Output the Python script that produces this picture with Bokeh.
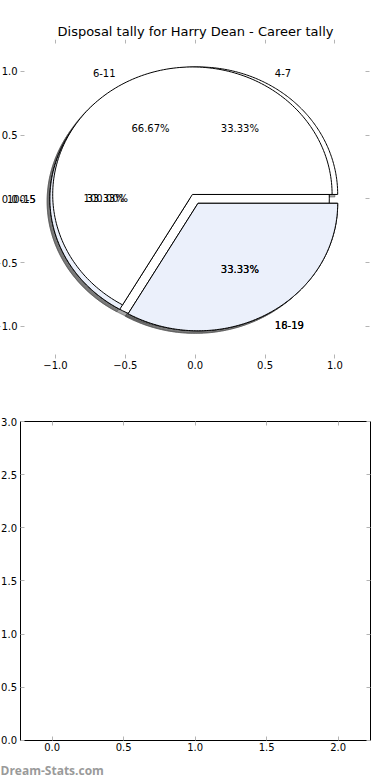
import numpy as np
from bokeh.plotting import figure
from bokeh.models import ColumnDataSource, Range1d, LinearAxis, FixedTicker, Label, LabelSet
from bokeh.layouts import column
from bokeh.embed import file_html
from bokeh.resources import INLINE
from bokeh.core.properties import value

# ---------------- data ----------------
title_text = "Disposal tally for Harry Dean - Career tally"
watermark = "Dream-Stats.com"

# three pies drawn on top of each other (first = bottom)
pie1_labels = ["0-5"]
pie1_values = [1]
pie2_labels = ["4-7", "10-15", "16-19"]
pie2_values = [1, 1, 1]
pie3_labels = ["6-11", "18-19"]
pie3_values = [2, 1]

pie_ticks = [-1.0, -0.5, 0.0, 0.5, 1.0]
empty_x_ticks = [0.0, 0.5, 1.0, 1.5, 2.0]
empty_y_ticks = [0.0, 0.5, 1.0, 1.5, 2.0, 2.5, 3.0]

# axes limits (matplotlib style axes drawn inside a full-size Bokeh frame)
pie_lim = 1.25
empty_xlim = (-0.225, 2.225)
empty_ylim = (0.0, 3.0)

# ---------------- style ----------------
FONT = "DejaVu Sans"
wedge_colors = ["#ffffff", "#ebf0fb"]
explode = 0.04
shadow_dx, shadow_dy = -0.02, -0.02
label_dist, pct_dist = 1.1, 0.6
tick_color = "#b4b4b4"


def tick_text(t):
    return ("%.1f" % t).replace("-", "\u2212")


def build_pie(values, labels):
    total = float(sum(values))
    wedges, texts = [], []
    t1 = 0.0
    for i, (v, lab) in enumerate(zip(values, labels)):
        frac = v / total
        t2 = t1 + frac
        tm = np.pi * (t1 + t2)
        cx, cy = explode * np.cos(tm), explode * np.sin(tm)
        ang = np.linspace(2 * np.pi * t1, 2 * np.pi * t2, 180)
        if frac > 0.9999:
            xs, ys = cx + np.cos(ang), cy + np.sin(ang)
        else:
            xs = np.concatenate([[cx], cx + np.cos(ang), [cx]])
            ys = np.concatenate([[cy], cy + np.sin(ang), [cy]])
        wedges.append(dict(xs=list(xs), ys=list(ys),
                           color=wedge_colors[i % len(wedge_colors)]))
        lx, ly = cx + label_dist * np.cos(tm), cy + label_dist * np.sin(tm)
        px, py = cx + pct_dist * np.cos(tm), cy + pct_dist * np.sin(tm)
        texts.append(dict(label=lab, lx=lx, ly=ly,
                          align="left" if lx > 0 else "right",
                          pct="%.2f%%" % (100 * frac), px=px, py=py))
        t1 = t2
    return wedges, texts


pies = [build_pie(pie1_values, pie1_labels),
        build_pie(pie2_values, pie2_labels),
        build_pie(pie3_values, pie3_labels)]


def style_axis(ax, ticks, show_labels, line_color=None, bounds=None, loc=None):
    ax.ticker = FixedTicker(ticks=ticks)
    ax.fixed_location = loc
    if bounds is not None:
        ax.bounds = bounds
    ax.axis_line_color = line_color
    ax.axis_line_width = 1
    ax.major_tick_in = 4
    ax.major_tick_out = 0
    ax.major_tick_line_color = tick_color
    ax.minor_tick_line_color = None
    ax.axis_label_standoff = 0
    ax.major_label_text_font = FONT
    ax.major_label_text_font_size = "10px"
    ax.major_label_text_color = "black"
    ax.major_label_standoff = 3
    if show_labels:
        ax.major_label_overrides = {t: tick_text(t) for t in ticks}
    else:
        ax.major_label_overrides = {t: "" for t in ticks}


# ---------------- pie figure ----------------
# Bokeh frame covers the whole figure below the title; pixel scale 139.7 px/unit (x), 127.5 px/unit (y)
p1 = figure(width=390, height=395,
            x_range=Range1d(-194.7 / 139.7, 195.3 / 139.7),
            y_range=Range1d(pie_lim - 356.0 / 127.5, pie_lim),
            x_axis_type=None, y_axis_type=None, output_backend="svg", toolbar_location=None,
            min_border_left=0, min_border_right=0, min_border_top=39, min_border_bottom=0,
            title=title_text)
p1.outline_line_color = None
p1.grid.visible = False
p1.title.text_font = FONT
p1.title.text_font_size = "13px"
p1.title.text_font_style = "normal"
p1.title.align = "center"
p1.title.text_color = "black"
p1.title.standoff = 2

# shadows first (all under wedges)
all_w = [w for wedges, _ in pies for w in wedges]
sh = ColumnDataSource(dict(xs=[[x + shadow_dx for x in w["xs"]] for w in all_w],
                           ys=[[y + shadow_dy for y in w["ys"]] for w in all_w]))
p1.patches("xs", "ys", source=sh, fill_color="#4d4d4d", fill_alpha=0.5,
           line_color="#4d4d4d", line_alpha=0.5, line_width=1)

for wedges, _ in pies:
    src = ColumnDataSource(dict(xs=[w["xs"] for w in wedges], ys=[w["ys"] for w in wedges],
                                color=[w["color"] for w in wedges]))
    p1.patches("xs", "ys", source=src, fill_color="color", line_color="black", line_width=1)

all_t = [t for _, texts in pies for t in texts]
for al in ["left", "right"]:
    sel = [t for t in all_t if t["align"] == al]
    src = ColumnDataSource(dict(x=[t["lx"] for t in sel], y=[t["ly"] for t in sel],
                                text=[t["label"] for t in sel]))
    p1.text("x", "y", text="text", source=src, text_align=al, text_baseline="middle",
            text_font=value(FONT), text_font_size="10px", text_color="black")
src = ColumnDataSource(dict(x=[t["px"] for t in all_t], y=[t["py"] for t in all_t],
                            text=[t["pct"] for t in all_t]))
p1.text("x", "y", text="text", source=src, text_align="center", text_baseline="middle",
        text_font=value(FONT), text_font_size="10px", text_color="black")

for side, lab, loc in [("left", True, -pie_lim), ("below", True, -pie_lim),
                       ("right", False, pie_lim), ("above", False, pie_lim)]:
    ax = LinearAxis()
    style_axis(ax, pie_ticks, lab, loc=loc)
    p1.add_layout(ax, side)

# ---------------- empty second figure ----------------
# frame covers whole figure; 143 px/unit (x), 106.33 px/unit (y)
p2 = figure(width=390, height=385,
            x_range=Range1d(-51.7 / 143.0, 338.3 / 143.0),
            y_range=Range1d(-40.0 / 106.33, 3.0 + 26.0 / 106.33),
            x_axis_type=None, y_axis_type=None, output_backend="svg", toolbar_location=None,
            min_border_left=0, min_border_right=0, min_border_top=0, min_border_bottom=0)
p2.outline_line_color = None
p2.grid.visible = False
for side, lab, tk, loc, bnd in [("left", True, empty_y_ticks, empty_xlim[0], empty_ylim),
                                ("below", True, empty_x_ticks, empty_ylim[0], empty_xlim),
                                ("right", False, empty_y_ticks, empty_xlim[1], empty_ylim),
                                ("above", False, empty_x_ticks, empty_ylim[1], empty_xlim)]:
    ax = LinearAxis()
    style_axis(ax, tk, lab, line_color="black", bounds=bnd, loc=loc)
    p2.add_layout(ax, side)

p2.add_layout(Label(x=0, y=10, x_units="screen", y_units="screen", text=watermark,
                    text_font="Open Sans", text_font_size="12px", text_font_style="bold",
                    text_color="#9a9a9a", text_baseline="middle", text_align="left"))

layout = column(p1, p2)
open("out.html", "w").write(file_html(layout, INLINE))
